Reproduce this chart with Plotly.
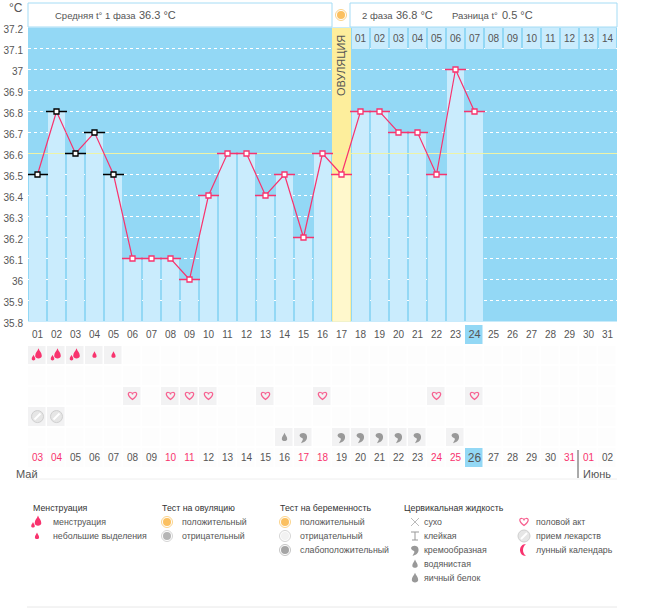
import plotly.graph_objects as go

W, H = 655, 608

# chart data
DAYS = list(range(1, 32))
TEMPS = [36.5, 36.8, 36.6, 36.7, 36.5, 36.1, 36.1, 36.1, 36.0, 36.4, 36.6, 36.6,
         36.4, 36.5, 36.2, 36.6, 36.5, 36.8, 36.8, 36.7, 36.7, 36.5, 37.0, 36.8]
DAY_LABELS = ["01", "02", "03", "04", "05", "06", "07", "08", "09", "10", "11", "12", "13", "14", "15", "16",
              "17", "18", "19", "20", "21", "22", "23", "24", "25", "26", "27", "28", "29", "30", "31"]
DATE_LABELS = ["03", "04", "05", "06", "07", "08", "09", "10", "11", "12", "13", "14", "15", "16", "17", "18",
               "19", "20", "21", "22", "23", "24", "25", "26", "27", "28", "29", "30", "31", "01", "02"]
WEEKEND_DAYS = [1, 2, 8, 9, 15, 16, 22, 23, 29, 30]
PHASE2_LABELS = ["01", "02", "03", "04", "05", "06", "07", "08", "09", "10", "11", "12", "13", "14"]
OVULATION_DAY = 17
TODAY = 24
MENSES_END = 5
COVER_LINE = 36.6
HEAVY_DAYS = [1, 2, 3]
LIGHT_DAYS = [4, 5]
SEX_DAYS = [6, 8, 9, 10, 13, 16, 22, 24]
PILL_DAYS = [1, 2]
WATERY_DAYS = [14]
CREAMY_DAYS = [15, 17, 18, 19, 20, 21, 23]

Y_MIN, Y_MAX = 35.8, 37.2
SKY = "#93d8f5"
PALE = "#caecfd"
PINK = "#f8336e"
TEXT = "#555555"
FONT = "Liberation Sans"


def px_x(x):
    return x / W


def px_y(y):
    return 1 - y / H


def label(x, y, s, size=8.8, color=TEXT, anchor="left", angle=0):
    """text placed by page pixels"""
    return dict(xref="paper", yref="paper", x=px_x(x), y=px_y(y), text=s, showarrow=False,
                xanchor=anchor, yanchor="middle", textangle=angle, xshift=-1,
                font=dict(family=FONT, size=size, color=color))


def path_icon(x, y, path, fill="rgba(0,0,0,0)", line="rgba(0,0,0,0)", lw=1, xref="paper", yref="paper"):
    """pixel sized svg path anchored at x, y"""
    return dict(type="path", path=path, xsizemode="pixel", ysizemode="pixel", xanchor=x, yanchor=y,
                xref=xref, yref=yref, fillcolor=fill, line=dict(color=line, width=lw))


def disc(x, y, r, fill, line="rgba(0,0,0,0)", lw=1, xref="paper", yref="paper"):
    return dict(type="circle", xsizemode="pixel", ysizemode="pixel", xanchor=x, yanchor=y,
                x0=-r, x1=r, y0=-r, y1=r, xref=xref, yref=yref, fillcolor=fill, line=dict(color=line, width=lw))


def drop_path(s, dx=0, dy=0):
    pts = [(0, 5), (1, 2), (3, 1), (3, -2), (3, -5), (-3, -5), (-3, -2), (-3, 1), (-1, 2), (0, 5)]
    p = [f"{a * s + dx:.1f} {b * s + dy:.1f}" for a, b in pts]
    return f"M {p[0]} C {p[1]} {p[2]} {p[3]} C {p[4]} {p[5]} {p[6]} C {p[7]} {p[8]} {p[9]} Z"


HEART = "M 0 -3.5 C -6 1 -4.5 4 -2 3.5 C -1 3.5 0 2.5 0 1.5 C 0 2.5 1 3.5 2 3.5 C 4.5 4 6 1 0 -3.5 Z"
COMMA = "M -4 2 C -3 5 3 5 3.5 1 C 4 -3 1 -5 -2.5 -6 C -1 -3 0 -2 -1 -1 C -2.5 0 -3.5 0 -4 2 Z"
MOON = "M 2 6 C -6 6 -6 -6 2 -6 C -2 -3 -2 3 2 6 Z"
CROSS = "M -4 4 L 4 -4 M -4 -4 L 4 4"
STICKY = "M -4 4 L 4 4 M 0 4 L 0 -4 M -3 -4 L 3 -4"
SLASH = "M -3 -3 L 3 3"
HEAVY = [drop_path(1.1, 1, 1), drop_path(0.6, -4, -3)]
LIGHT = drop_path(0.7)


def pill(x, y, **refs):
    return [disc(x, y, 6, "#e6e6e6", "#cfcfcf", 1, **refs),
            path_icon(x, y, SLASH, line="#ffffff", lw=2, **refs)]


def ring(x, y, outer, inner):
    return [disc(x, y, 5.5, "#ffffff", outer, 1), disc(x, y, 4, inner)]


fig = go.Figure()

# ovulation column, then the temperature bars
fig.add_trace(go.Bar(x=[OVULATION_DAY], y=[Y_MAX - Y_MIN], base=Y_MIN, width=0.95,
                     marker=dict(color="#fdee9c", line_width=0)))
fig.add_trace(go.Bar(x=DAYS[:len(TEMPS)], y=[t - Y_MIN for t in TEMPS], base=Y_MIN, width=0.92,
                     marker=dict(color=["#fff8cc" if d == OVULATION_DAY else PALE for d in DAYS[:len(TEMPS)]],
                                 line_width=0)))
# second phase day numbers sit on the top band
phase2_days = DAYS[OVULATION_DAY:]
fig.add_trace(go.Bar(x=phase2_days, y=[0.1] * len(phase2_days), base=Y_MAX - 0.1, width=0.92,
                     marker=dict(color=PALE, line_width=0)))
fig.add_trace(go.Scatter(x=phase2_days, y=[Y_MAX - 0.058] * len(phase2_days), mode="text", text=PHASE2_LABELS,
                         textfont=dict(family=FONT, size=10, color=TEXT)))
fig.add_trace(go.Scatter(x=[0.5, 31.5], y=[COVER_LINE, COVER_LINE], mode="lines",
                         line=dict(color="#eef3a6", width=1.2)))

edge = ["#000000" if d <= MENSES_END else PINK for d in DAYS[:len(TEMPS)]]
fig.add_trace(go.Scatter(x=DAYS[:len(TEMPS)], y=TEMPS, mode="markers",
                         marker=dict(symbol="line-ew", size=15, line=dict(color=edge, width=1.4))))
fig.add_trace(go.Scatter(x=DAYS[:len(TEMPS)], y=TEMPS, mode="lines+markers",
                         line=dict(color=PINK, width=1.2),
                         marker=dict(symbol="square", size=5, color="#ffffff", line=dict(color=edge, width=1.3))))

# lower table: row 0 day numbers, rows 1-5 icons, row 6 dates
z = [[0 if d != TODAY else 3 for d in DAYS]]
for row_days in [HEAVY_DAYS + LIGHT_DAYS, [], SEX_DAYS, PILL_DAYS, WATERY_DAYS + CREAMY_DAYS]:
    z.append([2 if d in row_days else 1 for d in DAYS])
z.append([1 if d != TODAY else 3 for d in DAYS])
fig.add_trace(go.Heatmap(x=DAYS, y=list(range(7)), z=z, xaxis="x", yaxis="y2", xgap=1.5, ygap=2,
                         showscale=False, zmin=0, zmax=3, hoverinfo="skip",
                         colorscale=[[0, "#ffffff"], [0.33, "#ffffff"], [0.34, "#f8f8fa"], [0.66, "#f8f8fa"],
                                     [0.67, "#efefef"], [0.99, "#efefef"], [1, SKY]]))
fig.add_trace(go.Scatter(x=DAYS, y=[0.05] * len(DAYS), mode="text", text=DAY_LABELS, xaxis="x", yaxis="y2",
                         textfont=dict(family=FONT, color=TEXT, size=[11 if d == TODAY else 10 for d in DAYS])))
fig.add_trace(go.Scatter(x=DAYS, y=[6.05] * len(DAYS), mode="text", text=DATE_LABELS, xaxis="x", yaxis="y2",
                         textfont=dict(family=FONT, size=[12 if d == TODAY else 10 for d in DAYS],
                                       color=[PINK if d in WEEKEND_DAYS else TEXT for d in DAYS])))

# sky goes under the gridlines of the temperature subplot only, the table keeps a white page behind it
shapes = [dict(type="rect", xref="x domain", yref="y domain", x0=0, x1=1, y0=0, y1=1, layer="below",
               fillcolor=SKY, line_width=0)]
refs = dict(xref="x", yref="y2")
for d in HEAVY_DAYS:
    shapes += [path_icon(d, 1, p, fill=PINK, **refs) for p in HEAVY]
for d in LIGHT_DAYS:
    shapes.append(path_icon(d, 1, LIGHT, fill=PINK, **refs))
for d in SEX_DAYS:
    shapes.append(path_icon(d, 3, HEART, line="#f75f8f", lw=1.2, **refs))
for d in PILL_DAYS:
    shapes += pill(d, 4, **refs)
for d in WATERY_DAYS:
    shapes.append(path_icon(d, 5, drop_path(0.9), fill="#999999", **refs))
for d in CREAMY_DAYS:
    shapes.append(path_icon(d, 5, COMMA, fill="#999999", **refs))

# header boxes
for x0, x1 in [(28, 332), (350, 617)]:
    shapes.append(dict(type="rect", xref="paper", yref="paper", x0=px_x(x0), x1=px_x(x1), y0=px_y(27), y1=px_y(3),
                       fillcolor="#ffffff", line=dict(color="#a5dcf5", width=1)))
shapes += ring(px_x(341), px_y(15), "#fbd38a", "#fbc060")

# month rules
for y, color in [(479, "#eeeeee"), (607, "#e8e8e8")]:
    shapes.append(dict(type="line", xref="paper", yref="paper", x0=px_x(27), x1=px_x(617), y0=px_y(y), y1=px_y(y),
                       line=dict(color=color, width=1)))
shapes.append(dict(type="line", xref="paper", yref="paper", x0=px_x(578), x1=px_x(578), y0=px_y(450), y1=px_y(478),
                   line=dict(color="#555555", width=1)))

# legend icons
rows = [522, 536, 550, 564, 578]
shapes += [path_icon(px_x(37), px_y(rows[0]), p, fill=PINK) for p in HEAVY]
shapes.append(path_icon(px_x(37), px_y(rows[1]), LIGHT, fill=PINK))
shapes += ring(px_x(167), px_y(rows[0]), "#fbd38a", "#fbc060")
shapes += ring(px_x(167), px_y(rows[1]), "#d5d5d5", "#b5b5b5")
shapes += ring(px_x(285), px_y(rows[0]), "#fbd38a", "#fbc060")
shapes += ring(px_x(285), px_y(rows[1]), "#d5d5d5", "#f2f2f2")
shapes += ring(px_x(285), px_y(rows[2]), "#c5c5c5", "#a5a5a5")
shapes.append(path_icon(px_x(415), px_y(rows[0]), CROSS, line="#aaaaaa", lw=0.8))
shapes.append(path_icon(px_x(415), px_y(rows[1]), STICKY, line="#999999", lw=1))
shapes.append(path_icon(px_x(415), px_y(rows[2]), COMMA, fill="#999999"))
shapes.append(path_icon(px_x(415), px_y(rows[3]), drop_path(0.9), fill="#999999"))
shapes.append(path_icon(px_x(415), px_y(rows[4]), drop_path(1.05), fill="#999999"))
shapes.append(path_icon(px_x(524), px_y(rows[0]), HEART, line="#f75f8f", lw=1.2))
shapes += pill(px_x(524), px_y(rows[1]))
shapes.append(path_icon(px_x(524), px_y(rows[2]), MOON, fill=PINK))

ann = [
    label(8, 8, "°C", size=12),
    label(54, 15, "Средняя t° 1 фаза", size=9.5),
    label(138, 15, "36.3 °C", size=11),
    label(361, 15, "2 фаза", size=9.5),
    label(395, 15, "36.8 °C", size=11),
    label(451, 15, "Разница t°", size=9.5),
    label(501, 15, "0.5 °C", size=11),
    label(342, 66, "ОВУЛЯЦИЯ", size=11, anchor="center", angle=-90),
    label(15, 474, "Май", size=11),
    label(582, 474, "Июнь", size=11),
    label(32, 508, "Менструация", color="#333333"),
    label(52, rows[0], "менструация"),
    label(52, rows[1], "небольшие выделения"),
    label(161, 508, "Тест на овуляцию", color="#333333"),
    label(181, rows[0], "положительный"),
    label(181, rows[1], "отрицательный"),
    label(279, 508, "Тест на беременность", color="#333333"),
    label(299, rows[0], "положительный"),
    label(299, rows[1], "отрицательный"),
    label(299, rows[2], "слабоположительный"),
    label(403, 508, "Цервикальная жидкость", color="#333333"),
    label(423, rows[0], "сухо"),
    label(423, rows[1], "клейкая"),
    label(423, rows[2], "кремообразная"),
    label(423, rows[3], "водянистая"),
    label(423, rows[4], "яичный белок"),
    label(535, rows[0], "половой акт"),
    label(535, rows[1], "прием лекарств"),
    label(535, rows[2], "лунный календарь"),
]

fig.update_layout(
    width=W, height=H, margin=dict(l=0, r=0, t=0, b=0, autoexpand=False), autosize=False,
    paper_bgcolor="#ffffff", plot_bgcolor="#ffffff", showlegend=False, barmode="overlay", bargap=0,
    shapes=shapes, annotations=ann,
    xaxis=dict(domain=[px_x(28), px_x(617)], range=[0.5, 31.5], anchor="y", showticklabels=False, ticks="",
               showgrid=False, zeroline=False),
    yaxis=dict(domain=[px_y(321.5), px_y(27.5)], range=[Y_MIN, Y_MAX], tick0=Y_MIN, dtick=0.1, ticks="outside",
               ticklen=2, tickcolor="rgba(0,0,0,0)", griddash="dot", gridcolor="#ffffff", gridwidth=1,
               ticklabelshift=2, zeroline=False, showline=False, tickfont=dict(family=FONT, size=10, color=TEXT)),
    yaxis2=dict(domain=[px_y(468), px_y(324)], range=[6.5, -0.5], anchor="x", visible=False),
)

# browser default body margin would push the whole figure off the page grid
fig.write_html("out.html", post_script="document.body.style.margin = '0';", config=dict(displayModeBar=False))
